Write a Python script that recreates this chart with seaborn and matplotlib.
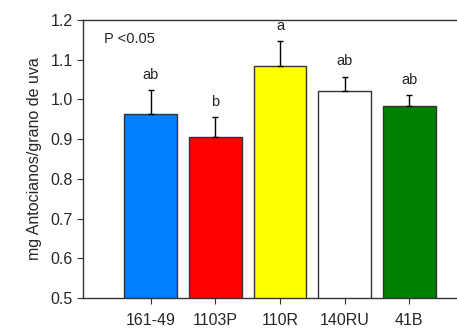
import numpy as np
import pandas as pd
import matplotlib
matplotlib.use('Agg')
import matplotlib.pyplot as plt
import seaborn as sns

# datos
portainjertos = ['161-49', '1103P', '110R', '140RU', '41B']
antocianos = [0.963, 0.905, 1.084, 1.021, 0.984]
error = [0.061, 0.050, 0.062, 0.036, 0.026]
letras = ['ab', 'b', 'a', 'ab', 'ab']
colores = ['#0080FF', '#FF0000', '#FFFF00', '#FFFFFF', '#008000']

sns.set_style('white')
plt.rcParams['font.family'] = ['Liberation Sans', 'DejaVu Sans']

df = pd.DataFrame({'pi': portainjertos, 'val': antocianos})

fig = plt.figure(figsize=(4.57, 3.29), dpi=100)
ax = fig.add_axes([0.1816, 0.0942, 0.8184, 0.845])

sns.barplot(data=df, x='pi', y='val', hue='pi', palette=colores, legend=False,
            width=0.82, saturation=1, edgecolor='#333333', linewidth=1.0,
            ax=ax, errorbar=None)

x = np.arange(len(portainjertos))
ax.errorbar(x, antocianos, yerr=[np.zeros(len(error)), error], fmt='none',
            ecolor='black', elinewidth=1.0, capsize=2.5, capthick=1.0)

for xi, v, e, l in zip(x, antocianos, error, letras):
    ax.annotate(l, (xi, v + e), xytext=(0, 6), textcoords='offset points',
                ha='center', va='bottom', fontsize=10.5, color='#222222')

ax.text(0.055, 0.93, 'P <0.05', transform=ax.transAxes, fontsize=10.5, va='center')

ax.set_ylim(0.5, 1.2)
ax.set_yticks(np.arange(0.5, 1.21, 0.1))
ax.set_yticklabels([f'{t:.1f}' for t in np.arange(0.5, 1.21, 0.1)])
ax.set_xlim(-1.05, 4.74)
ax.set_xlabel('')
ax.set_ylabel('mg Antocianos/grano de uva', fontsize=11.5, labelpad=6)
ax.tick_params(axis='both', labelsize=11.5, direction='out', length=4, width=0.8,
               left=True, bottom=True, color='#333333')
ax.tick_params(axis='x', pad=7)
for s in ['left', 'bottom', 'top']:
    ax.spines[s].set_color('#333333')
    ax.spines[s].set_linewidth(1.0)
ax.spines['right'].set_visible(False)

fig.savefig('out.png', dpi=100)
